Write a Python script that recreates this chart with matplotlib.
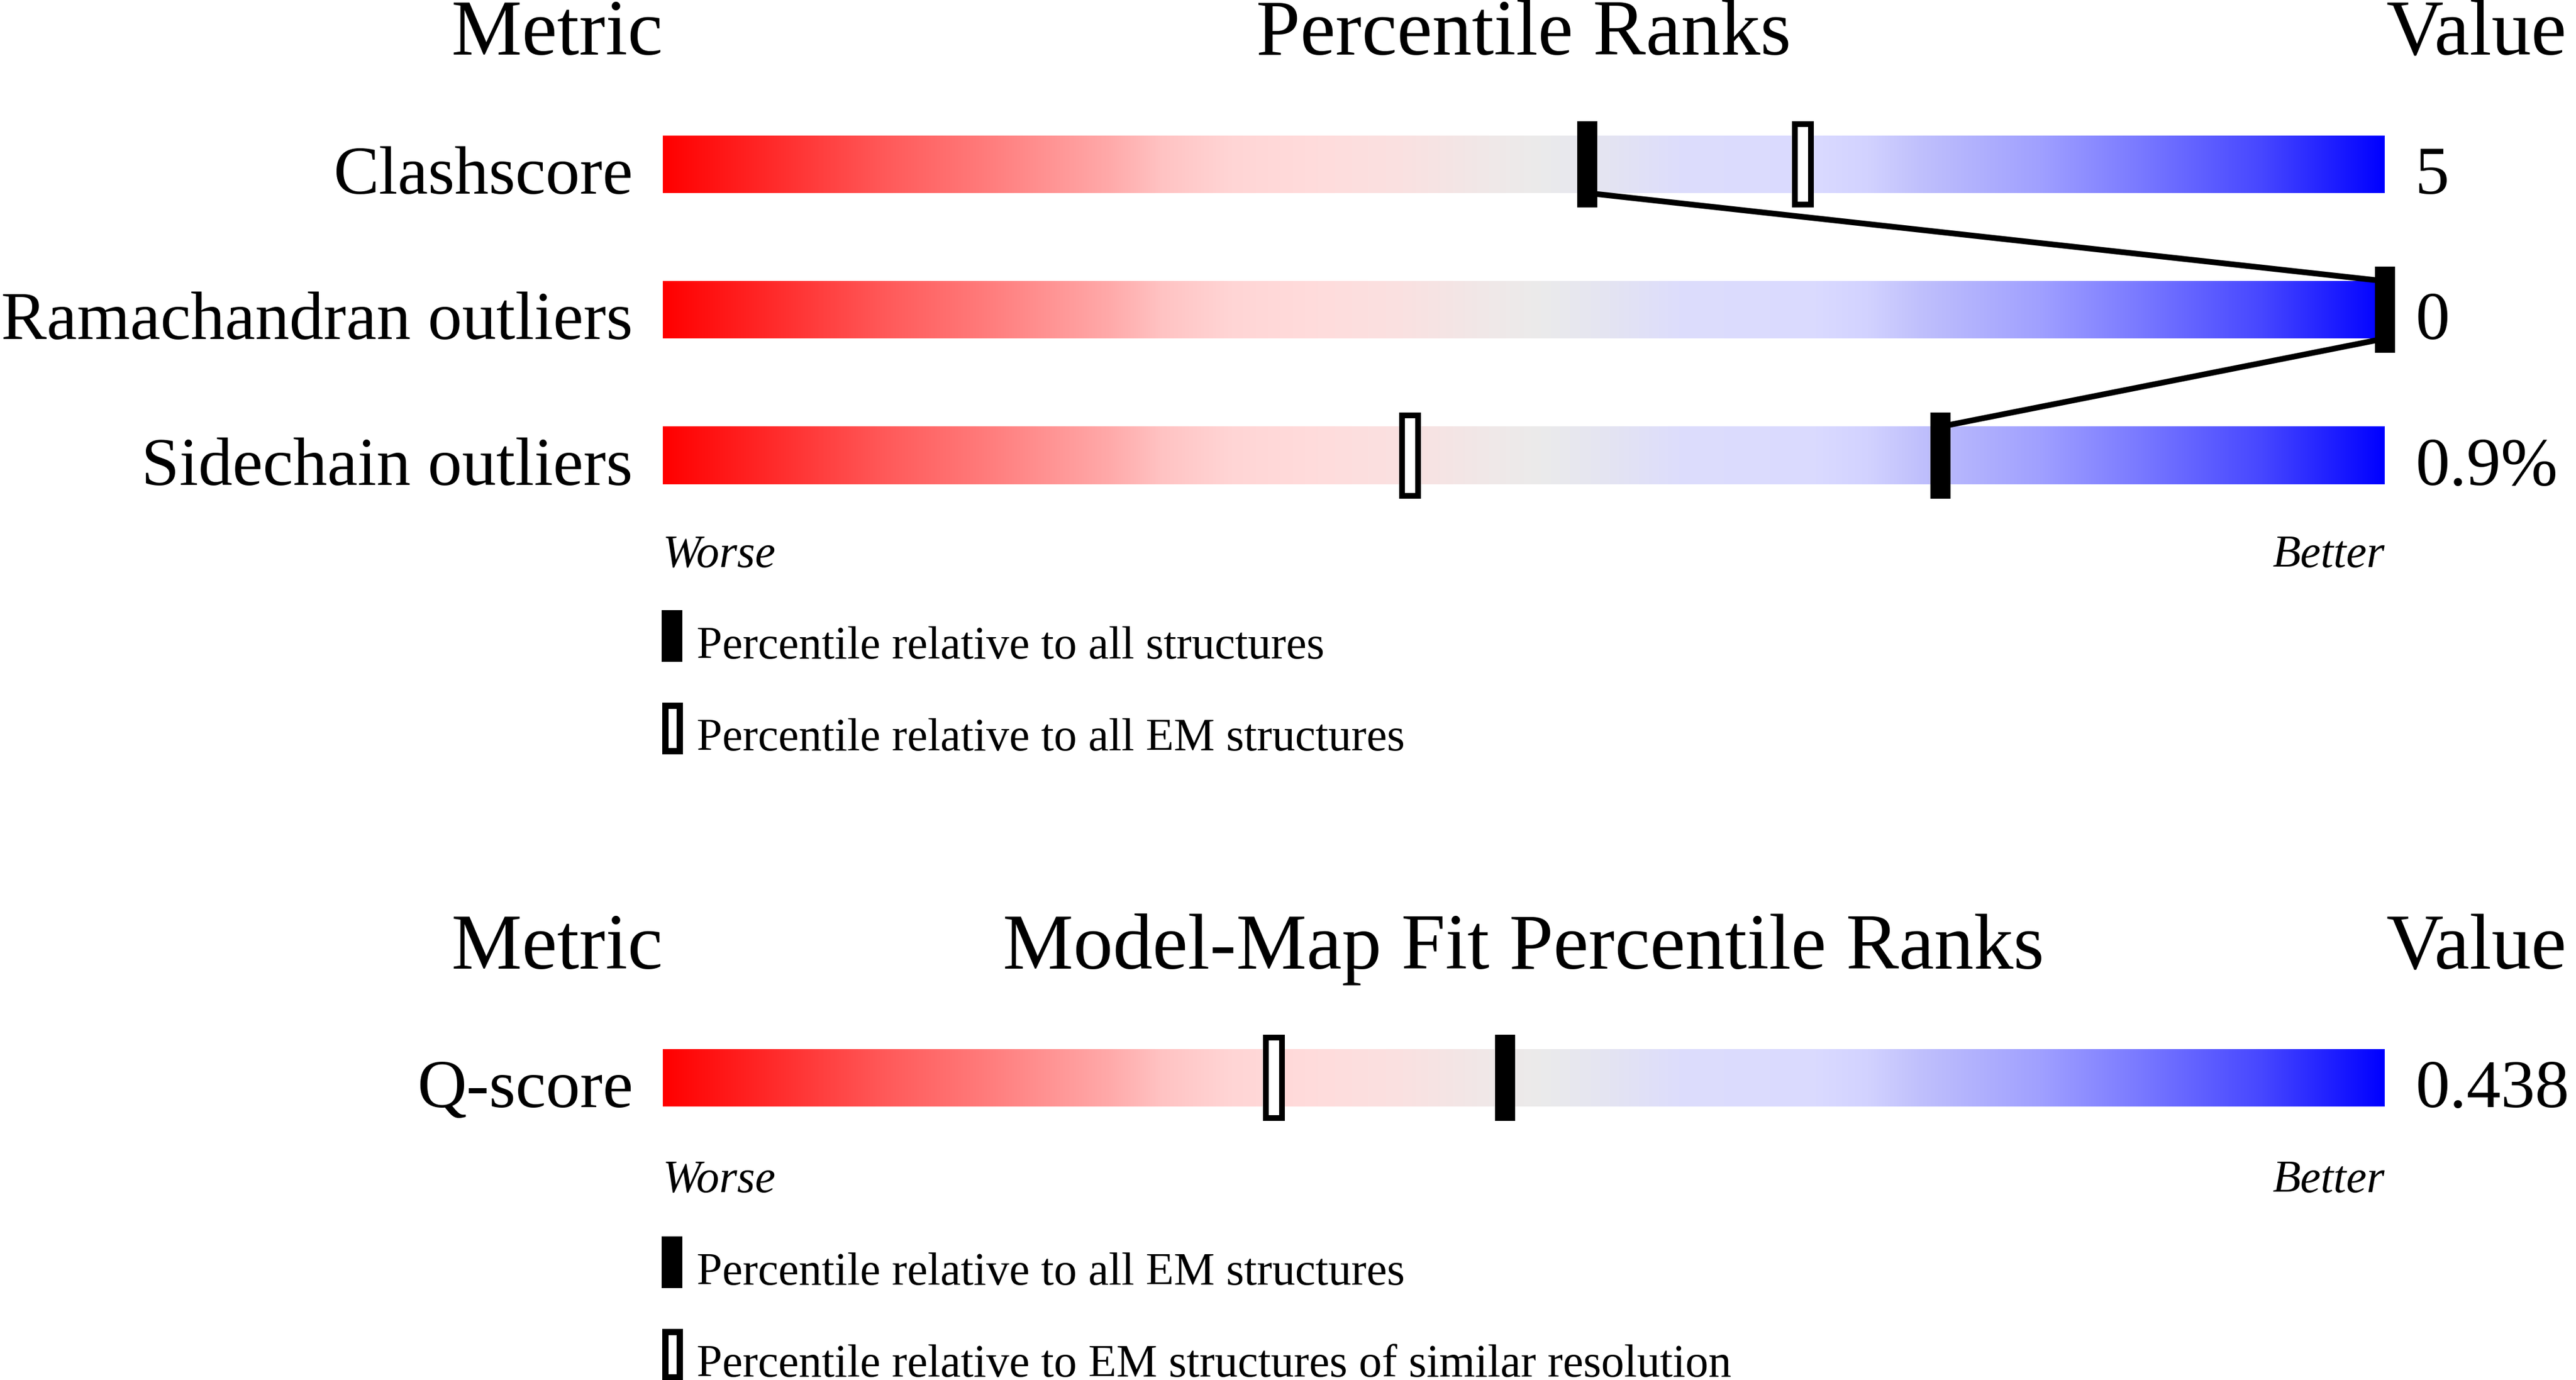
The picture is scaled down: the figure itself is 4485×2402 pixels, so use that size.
import numpy as np
import matplotlib
matplotlib.use("Agg")
import matplotlib.pyplot as plt
from matplotlib.colors import LinearSegmentedColormap
from matplotlib.patches import Rectangle

# ---------------- data ----------------
headers_1 = ["Metric", "Percentile Ranks", "Value"]
metrics_1 = ["Clashscore", "Ramachandran outliers", "Sidechain outliers"]
values_1 = ["5", "0", "0.9%"]
pct_all_1 = [53.7, 100.0, 74.2]          # black markers
pct_em_1 = [66.2, np.nan, 43.4]          # open markers
legend_1 = ["Percentile relative to all structures",
            "Percentile relative to all EM structures"]

headers_2 = ["Metric", "Model-Map Fit Percentile Ranks", "Value"]
metrics_2 = ["Q-score"]
values_2 = ["0.438"]
pct_all_2 = [48.9]                        # black marker
pct_sim_2 = [35.5]                        # open marker
legend_2 = ["Percentile relative to all EM structures",
            "Percentile relative to EM structures of similar resolution"]

scale_labels = ["Worse", "Better"]

# gradient colour stops (position, rgb)
grad_pos = [0.0, 0.06, 0.13, 0.19, 0.26, 0.29, 0.33, 0.38, 0.43, 0.48, 0.51,
            0.55, 0.59, 0.67, 0.70, 0.73, 0.80, 0.86, 0.93, 1.0]
grad_rgb = [(255, 0, 0), (255, 40, 40), (255, 90, 90), (255, 125, 125),
            (255, 170, 170), (255, 195, 195), (255, 213, 213), (255, 220, 220),
            (250, 225, 225), (240, 232, 232), (235, 235, 235), (228, 228, 242),
            (221, 221, 252), (218, 218, 255), (210, 210, 255), (192, 192, 252),
            (160, 160, 255), (120, 120, 255), (70, 70, 255), (0, 0, 255)]

# ---------------- layout ----------------
W, H = 4485, 2402
DPI = 100
BAR_L, BAR_R = 1154, 4152
UNIT = 253.33           # px per row
BAR_HALF = 50 / UNIT
MARK_HALF = 75 / UNIT
PX_PER_PCT = (BAR_R - BAR_L) / 100.0
FONT = "Liberation Serif"
PT = 72.0 / DPI          # points per pixel

plt.rcParams["font.family"] = [FONT, "DejaVu Serif"]

cmap = LinearSegmentedColormap.from_list(
    "val", [(p, tuple(c / 255 for c in rgb)) for p, rgb in zip(grad_pos, grad_rgb)], N=1024)

fig = plt.figure(figsize=(W / DPI, H / DPI), dpi=DPI)
fig.patch.set_facecolor("white")


def fx(x):
    return x / W


def fy(y):
    return 1 - y / H


def make_axes(top_px, nrows):
    bottom_px = top_px + nrows * UNIT
    ax = fig.add_axes([fx(BAR_L), fy(bottom_px), (BAR_R - BAR_L) / W, nrows * UNIT / H])
    ax.set_axis_off()
    return ax


def draw_panel(ax, metrics, values, pct_black, pct_open):
    n = len(metrics)
    grad = np.linspace(0, 1, 1024).reshape(1, -1)
    for i in range(n):
        ax.imshow(grad, cmap=cmap, aspect="auto", interpolation="bilinear",
                  extent=(0, 100, i + BAR_HALF, i - BAR_HALF), zorder=1)
    # connecting lines between black markers
    rows = np.arange(n)
    for i in range(n - 1):
        ax.plot([pct_black[i], pct_black[i + 1]], [rows[i] + BAR_HALF, rows[i + 1] - BAR_HALF],
                color="black", lw=10 * PT, solid_capstyle="butt", zorder=2, clip_on=False)
    # open markers
    ow = 28 / PX_PER_PCT
    oh = 2 * MARK_HALF - 10 / UNIT
    po = np.array(pct_open, dtype=float)
    ok = ~np.isnan(po)
    ax.bar(po[ok], oh, width=ow, bottom=rows[ok] - oh / 2, color="white",
           edgecolor="black", linewidth=10 * PT, zorder=3, clip_on=False)
    # black markers
    bw = 35 / PX_PER_PCT
    ax.bar(pct_black, 2 * MARK_HALF, width=bw, bottom=rows - MARK_HALF,
           color="black", linewidth=0, zorder=4, clip_on=False)
    ax.set_xlim(0, 100)
    ax.set_ylim(n - 0.5, -0.5)


# ---------------- panel 1 ----------------
top1 = 286 - UNIT / 2
ax1 = make_axes(top1, len(metrics_1))
draw_panel(ax1, metrics_1, values_1, pct_all_1, pct_em_1)

# ---------------- panel 2 ----------------
top2 = 1876 - UNIT / 2
ax2 = make_axes(top2, len(metrics_2))
draw_panel(ax2, metrics_2, values_2, pct_all_2, pct_sim_2)

HEAD_FS = 138 * PT
LAB_FS = 119 * PT
SMALL_FS = 80 * PT


def header(texts, base):
    fig.text(fx(BAR_L), fy(base), texts[0], ha="right", va="baseline", fontsize=HEAD_FS)
    fig.text(fx((BAR_L + BAR_R) / 2), fy(base), texts[1], ha="center", va="baseline", fontsize=HEAD_FS)
    fig.text(fx(BAR_R + 2), fy(base), texts[2], ha="left", va="baseline", fontsize=HEAD_FS)


def row_texts(metrics, values, top):
    for i, (m, v) in enumerate(zip(metrics, values)):
        yc = top + UNIT * (i + 0.5)
        fig.text(fx(1102), fy(yc + 51), m, ha="right", va="baseline", fontsize=LAB_FS)
        fig.text(fx(4205), fy(yc + 51), v, ha="left", va="baseline", fontsize=LAB_FS)


def scale_text(base):
    fig.text(fx(BAR_L), fy(base), scale_labels[0], ha="left", va="baseline",
             fontsize=SMALL_FS, style="italic")
    fig.text(fx(BAR_R), fy(base), scale_labels[1], ha="right", va="baseline",
             fontsize=SMALL_FS, style="italic")


def legend(labels, top):
    # solid key
    x0, x1 = 1152, 1188
    fig.add_artist(Rectangle((fx(x0), fy(top + 90)), (x1 - x0) / W, 90 / H,
                             transform=fig.transFigure, facecolor="black", edgecolor="none"))
    fig.text(fx(1213), fy(top + 84), labels[0], ha="left", va="baseline", fontsize=SMALL_FS)
    # open key
    t2 = top + 160
    b = 11
    fig.add_artist(Rectangle((fx(x0 + b / 2), fy(t2 + 90 - b / 2)), (x1 - x0 - b) / W, (90 - b) / H,
                             transform=fig.transFigure, facecolor="white", edgecolor="black",
                             linewidth=b * PT))
    fig.text(fx(1213), fy(t2 + 84), labels[1], ha="left", va="baseline", fontsize=SMALL_FS)


header(headers_1, 95)
row_texts(metrics_1, values_1, top1)
scale_text(987)
legend(legend_1, 1062)

header(headers_2, 1686)
row_texts(metrics_2, values_2, top2)
scale_text(2075)
legend(legend_2, 2152)

fig.savefig("out.png", dpi=DPI, facecolor="white")
